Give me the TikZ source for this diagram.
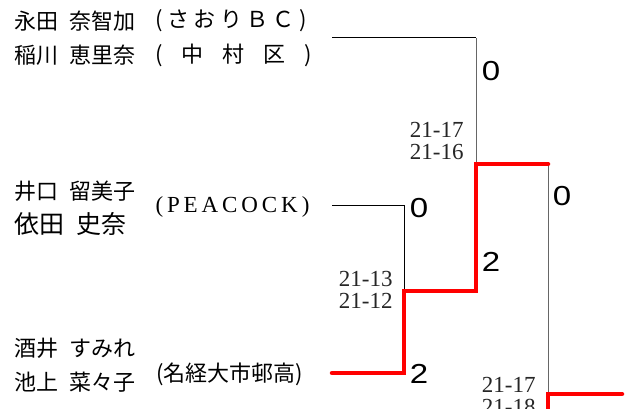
\documentclass[tikz,border=0pt]{standalone}
\usepackage{fontspec}
\newfontfamily\jp[WordSpace=2.2]{Noto Sans CJK JP}
\newfontfamily\jpwide[LetterSpace=20]{Noto Sans CJK JP}
\newfontfamily\latwide[LetterSpace=17]{Liberation Serif}
\newfontfamily\serif{Liberation Serif}
\newfontfamily\sans[FakeStretch=1.2]{Liberation Sans}
\usetikzlibrary{positioning}

\begin{document}
\begin{tikzpicture}[x=1pt, y=-1pt, inner sep=0pt, line width=1pt]
		\tikzstyle{player}=[anchor=west, font=\jp\fontsize{22}{26}\selectfont]
		\tikzstyle{team}=[anchor=west, font=\jpwide\fontsize{22}{26}\selectfont]
		\tikzstyle{score}=[font=\sans\fontsize{27.5}{30}\selectfont]
		\tikzstyle{games}=[anchor=base east, align=right, text=black!85, font=\serif\fontsize{23}{22}\selectfont]
		\tikzstyle{win}=[red, line width=4.5pt, line cap=round, line join=miter]
		\useasboundingbox (0,0) rectangle (627,409);
		% players
		\node[player]   (p1)  at (14,21)    {永田 奈智加};
		\node[player]   (p2)  at (14,55)    {稲川 恵里奈};
		\node[player]   (p3)  at (14,191)   {井口 留美子};
		\node[player, font=\jp\fontsize{25}{28}\selectfont] (p4) at (14,224) {依田 史奈};
		\node[player]   (p5)  at (14,348)   {酒井 すみれ};
		\node[player]   (p6)  at (14,382)   {池上 菜々子};
		% teams
		\node[team]     (t1)  at (155,21)   {(さおりＢＣ)};
		\node[player]   (t2)  at (155,55)   {\makebox[156pt][s]{( 中 村 区 )}};
		\node[team, font=\latwide\fontsize{23}{26}\selectfont] (t3) at (155,207) {(PEACOCK)};
		\node[player]   (t4)  at (156,374)  {(名経大市邨高)};
		% bracket
		\coordinate (A0) at (332,38);
		\coordinate (A1) at (476,38);
		\coordinate (B0) at (332,206);
		\coordinate (B1) at (404,206);
		\coordinate (C0) at (332,373);
		\coordinate (C1) at (404,373);
		\coordinate (S)  at (404,291);
		\coordinate (S1) at (476,291);
		\coordinate (F)  at (476,164);
		\coordinate (F1) at (548,164);
		\coordinate (G)  at (548,394);
		\coordinate (G0) at (548,425);
		\coordinate (G1) at (622,394);
		\draw (A0) -- (A1);
		\draw[gray!80!black] (A1) -- (F);
		\draw (B0) -- (B1) -- (S);
		\draw[gray!80!black] (F1) -- (G);
		\draw[win] (C0) -- (C1) -- (S) -- (S1) -- (F) -- (F1);
		\draw[win] (G0) -- (G) -- (G1);
		% scores
		\node[score]    (s1)  at (491,71)   {0};
		\node[score]    (s2)  at (419,208)  {0};
		\node[score]    (s3)  at (491,262)  {2};
		\node[score]    (s4)  at (419,374)  {2};
		\node[score]    (s5)  at (562,196)  {0};
		\node[games]    (g1)  at (464,160)  {21-17\\21-16};
		\node[games]    (g2)  at (393,308)  {21-13\\21-12};
		\node[games]    (g3)  at (536,414)  {21-17\\21-18};
	\end{tikzpicture}
\end{document}
